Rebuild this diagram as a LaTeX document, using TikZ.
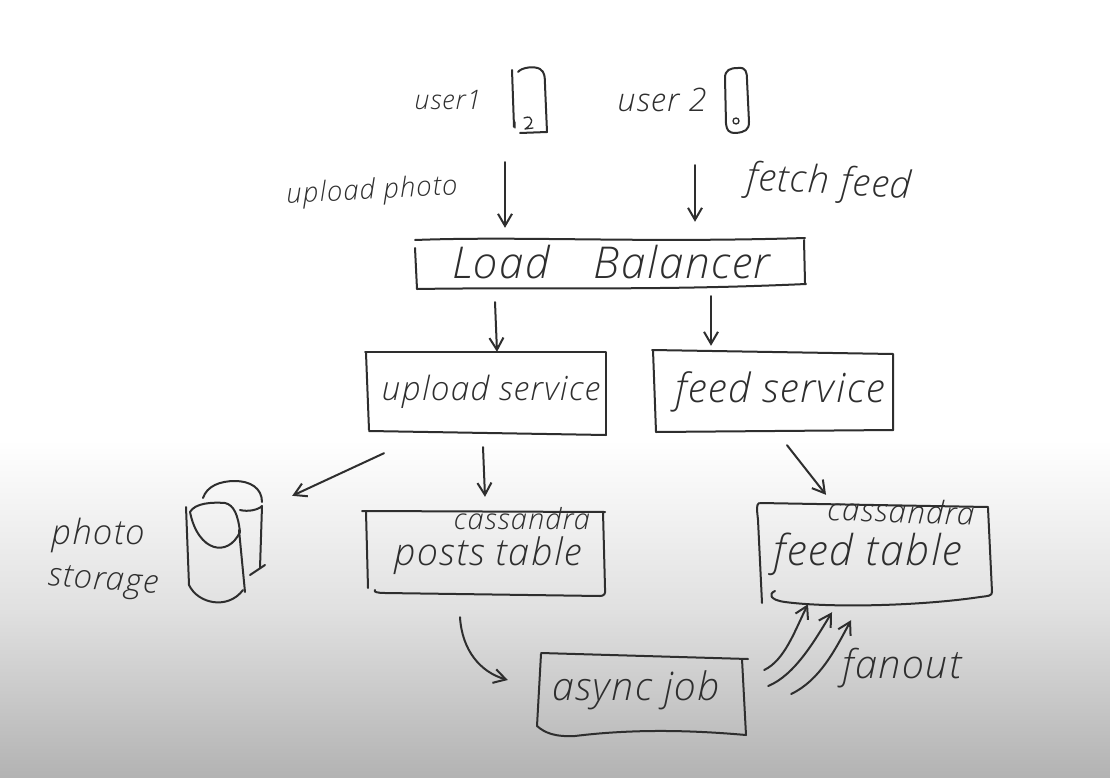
\documentclass[tikz,border=0pt]{standalone}
\usepackage{fontspec}
\usepackage{graphicx}
\usetikzlibrary{arrows.meta}
\setmainfont{Open Sans}[UprightFont=* Light,ItalicFont=* Light Italic,LetterSpace=4]
\newcommand{\hw}[2]{\resizebox{#1pt}{!}{\itshape #2}}
\definecolor{ink}{HTML}{2E2E2E}
\tikzset{
  pen/.style={draw=ink,line width=2pt,line cap=round,line join=round},
  arr/.style={pen,-{Straight Barb[length=12pt,width=14pt,line width=2pt]}},
  boxnode/.style={inner sep=0pt,text=ink},
  txt/.style={inner sep=0pt,text=ink}
}
\begin{document}
\begin{tikzpicture}[x=1pt,y=-1pt]
\useasboundingbox (0,0) rectangle (1110,778);
% background
\fill[white] (0,0) rectangle (1110,440);
\shade[top color=white,bottom color=black!12] (0,440) rectangle (1110,610);
\shade[top color=black!12,bottom color=black!30] (0,610) rectangle (1110,778);

% labels
\node[txt] (user1) at (448,100) {\hw{67}{user1}};
\node[txt] (user2) at (662,100) {\hw{89}{user 2}};
\node[txt,rotate=3] (lupload) at (372,192) {\hw{171}{upload photo}};
\node[txt,rotate=-3] (lfetch) at (829,184) {\hw{165}{fetch feed}};
\node[txt] (lcass1) at (522,519) {\hw{136}{cassandra}};
\node[txt,rotate=-2] (lcass2) at (901,511) {\hw{147}{cassandra}};
\node[txt] (lphoto) at (98,535) {\hw{93}{photo}};
\node[txt,rotate=-4] (lstorage) at (103,583) {\hw{110}{storage}};
\node[txt] (lfanout) at (902,668) {\hw{119}{fanout}};

% phones
\node[boxnode,minimum width=35pt,minimum height=64pt] (ph1) at (530,100) {};
\node[boxnode,minimum width=24pt,minimum height=60pt] (ph2) at (737,100) {};
\draw[pen] (512,70) -- (514,127);
\draw[pen] (518,72) .. controls (522,67) and (535,66) .. (540,69) .. controls (545,72) and (545,78) .. (545,85) -- (547,132) -- (520,133);
\draw[pen,line width=1.3pt] (515,122) -- (515,128) (524,118) .. controls (534,114) and (534,124) .. (525,129) -- (533,128);
\draw[pen] (725,78) .. controls (725,70) and (730,68) .. (738,68) .. controls (746,67) and (747,72) .. (747,80) -- (749,122) .. controls (749,130) and (745,132) .. (736,133) .. controls (728,133) and (727,130) .. (726,124) -- (725,78);
\draw[pen,line width=1.3pt] (736,121) circle (3pt);

% boxes
\node[boxnode,minimum width=390pt,minimum height=50pt] (lb) at (611,262) {\hw{318}{Load\quad Balancer}};
\node[boxnode,minimum width=240pt,minimum height=80pt] (us) at (491,392) {\hw{218}{upload service}};
\node[boxnode,minimum width=240pt,minimum height=80pt] (fs) at (780,392) {\hw{209}{feed service}};
\node[boxnode,minimum width=240pt,minimum height=84pt] (pt) at (488,556) {\hw{187}{posts table}};
\node[boxnode,minimum width=232pt,minimum height=96pt] (ft) at (868,554) {\hw{188}{feed table}};
\node[boxnode,minimum width=208pt,minimum height=76pt] (aj) at (636,690) {\hw{168}{async job}};
\node[boxnode,minimum width=80pt,minimum height=124pt] (cyl) at (225,540) {};

% Load Balancer outline
\draw[pen] (415,240) .. controls (520,236) and (640,243) .. (805,238);
\draw[pen] (415,248) -- (417,289);
\draw[pen] (417,289) .. controls (540,287) and (650,291) .. (806,284);
\draw[pen] (804,240) -- (805,283);
% upload service outline
\draw[pen] (365,352) -- (606,352) -- (606,435);
\draw[pen] (366,353) -- (369,430);
\draw[pen] (369,431) -- (606,435);
% feed service outline
\draw[pen] (652,350) -- (893,354) -- (893,430);
\draw[pen] (653,350) -- (656,432);
\draw[pen] (656,432) -- (893,430);
% posts table outline
\draw[pen] (362,511) -- (605,512);
\draw[pen] (366,512) -- (368,588);
\draw[pen] (375,590) .. controls (373,592) and (378,593) .. (385,593) -- (600,596) .. controls (604,596) and (606,594) .. (605,588) -- (603,512);
% feed table outline
\draw[pen] (760,503) -- (988,507);
\draw[pen] (759,503) .. controls (756,505) and (757,510) .. (758,520) -- (762,603);
\draw[pen] (988,508) -- (992,592) .. controls (992,596) and (988,596) .. (980,597) .. controls (920,606) and (830,608) .. (785,602) .. controls (770,600) and (768,594) .. (775,591);
% async job outline
\draw[pen] (541,653) -- (748,659);
\draw[pen] (541,654) -- (537,726);
\draw[pen] (537,726) .. controls (545,733) and (555,737) .. (575,736) .. controls (640,728) and (700,731) .. (746,735);
\draw[pen] (742,659) -- (746,735);
% cylinders
\draw[pen] (186,507) -- (189,585);
\draw[pen] (190,512) .. controls (195,503) and (212,502) .. (225,503) .. controls (234,505) and (238,515) .. (240,532) .. controls (228,558) and (198,552) .. (190,512);
\draw[pen] (239,530) -- (245,592);
\draw[pen] (189,585) .. controls (198,604) and (228,610) .. (243,590);
\draw[pen] (203,498) .. controls (207,486) and (220,481) .. (235,481) .. controls (250,481) and (262,488) .. (262,502);
\draw[pen] (240,510) .. controls (248,512) and (258,510) .. (262,506) -- (260,568);
\draw[pen] (250,575) -- (265,565);

% connectors
\draw[arr] ([xshift=-25pt,yshift=-30pt]ph1.south) -- ([xshift=-106pt,yshift=9pt]lb.north);
\draw[arr] ([xshift=-42pt,yshift=-35pt]ph2.south) -- ([xshift=84pt,yshift=15pt]lb.north);
\draw[arr] ([xshift=-116pt,yshift=-15pt]lb.south) -- ([xshift=6pt]us.north);
\draw[arr] ([xshift=100pt,yshift=-9pt]lb.south) -- ([xshift=-69pt,yshift=6pt]fs.north);
\draw[arr] ([xshift=-107pt,yshift=-21pt]us.south) -- ([xshift=27pt,yshift=-18pt]cyl.north east);
\draw[arr] ([xshift=-8pt,yshift=-15pt]us.south) -- ([xshift=-3pt,yshift=17pt]pt.north);
\draw[arr] ([xshift=7pt,yshift=-13pt]fs.south) -- ([xshift=-42pt,yshift=11pt]ft.north);
\draw[arr] ([xshift=-28pt,yshift=-19pt]pt.south) .. controls (462,650) and (480,672) .. ([xshift=-24pt,yshift=10pt]aj.west);
\draw[arr] ([xshift=24pt,yshift=20pt]aj.east) .. controls (785,660) and (795,630) .. ([xshift=-60pt,yshift=-2pt]ft.south);
\draw[arr] ([xshift=28pt,yshift=4pt]aj.east) .. controls (795,675) and (815,640) .. ([xshift=-36pt,yshift=-10pt]ft.south);
\draw[arr] ([xshift=51pt,yshift=-4pt]aj.east) .. controls (820,680) and (835,650) .. ([xshift=-17pt,yshift=-18pt]ft.south);
\end{tikzpicture}
\end{document}
